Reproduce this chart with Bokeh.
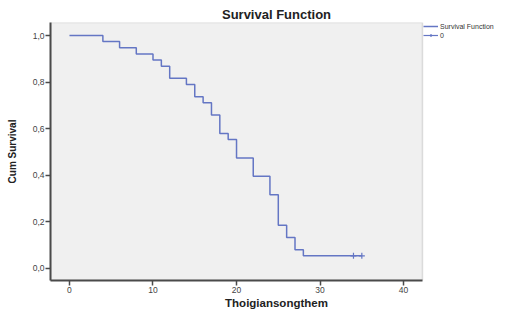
from bokeh.plotting import figure
from bokeh.models import Range1d, FixedTicker, Legend, LegendItem, BoxAnnotation
from bokeh.embed import file_html
from bokeh.resources import INLINE

# Kaplan-Meier step values
times = [0, 4, 6, 8, 10, 11, 12, 14, 15, 16, 17, 18, 19, 20, 22, 24, 25, 26, 27, 28, 35]
surv = [1.0, 0.974, 0.947, 0.921, 0.895, 0.868, 0.816, 0.789, 0.737, 0.711, 0.658,
        0.579, 0.553, 0.474, 0.395, 0.316, 0.184, 0.132, 0.079, 0.053, 0.053]
cens_t = [34, 35]
cens_s = [0.053, 0.053]

x_ticks = [0, 10, 20, 30, 40]
y_ticks = [0.0, 0.2, 0.4, 0.6, 0.8, 1.0]
y_tick_labels = {0.0: "0,0", 0.2: "0,2", 0.4: "0,4", 0.6: "0,6", 0.8: "0,8", 1.0: "1,0"}

# plot-area extent (data units) and the extra room on the right for the legend
XMIN, XMAX = -2.27, 42.26
YMIN, YMAX = -0.053, 1.056
XRIGHT = 51.84

LINE = "#6476C4"
FONT = "Liberation Sans"

W, H = 502, 311
BL, BR, BT, BB = 50, 0, 22, 30
FH = H - BT - BB

p = figure(width=W, height=H, output_backend="svg", toolbar_location=None,
           x_range=Range1d(XMIN, XRIGHT), y_range=Range1d(YMIN, YMAX),
           min_border_left=BL, min_border_right=BR, min_border_top=BT, min_border_bottom=BB,
           background_fill_color="white", border_fill_color="white")

p.title.text = "Survival Function"
p.title.align = "center"
p.title.text_font = FONT
p.title.text_font_size = "13px"
p.title.text_font_style = "bold"
p.title.text_color = "#222222"
p.title.standoff = 1

p.outline_line_color = None
p.xgrid.visible = False
p.ygrid.visible = False

area = BoxAnnotation(left=XMIN, right=XMAX, bottom=YMIN, top=YMAX,
                     fill_color="#F0F0F0", fill_alpha=1.0,
                     line_color="#999999", line_width=1.5, level="underlay")
p.add_layout(area)

step_r = p.step(times, surv, mode="after", line_color=LINE, line_width=1.5)
cens_r = p.scatter(cens_t, cens_s, marker="cross", size=6, line_color=LINE, line_width=1.2)
dummy_line = p.line(x=[-100, -99], y=[-100, -100], line_color=LINE, line_width=1.2)

for ax in (p.xaxis[0], p.yaxis[0]):
    ax.axis_line_color = "#4a4a4a"
    ax.axis_line_width = 2
    ax.major_tick_line_color = "#4a4a4a"
    ax.major_tick_line_width = 1.5
    ax.major_tick_out = 5
    ax.major_tick_in = 0
    ax.minor_tick_out = 0
    ax.minor_tick_in = 0
    ax.major_label_text_font = FONT
    ax.major_label_text_font_size = "8.5px"
    ax.major_label_text_color = "#444444"
    ax.axis_label_text_font = FONT
    ax.axis_label_text_font_style = "bold"
    ax.axis_label_text_color = "#222222"

p.xaxis.bounds = (XMIN, XMAX)
p.xaxis.ticker = FixedTicker(ticks=x_ticks)
p.yaxis.ticker = FixedTicker(ticks=y_ticks)
p.yaxis.major_label_overrides = y_tick_labels
p.xaxis.major_label_standoff = 1
p.yaxis.major_label_standoff = 1
p.xaxis.axis_label = "Thoigiansongthem"
p.xaxis.axis_label_text_font_size = "11.5px"
p.xaxis.axis_label_standoff = 1
p.yaxis.axis_label = "Cum Survival"
p.yaxis.axis_label_text_font_size = "10px"
p.yaxis.axis_label_standoff = 12

legend = Legend(items=[LegendItem(label="Survival Function", renderers=[step_r]),
                       LegendItem(label="0", renderers=[dummy_line, cens_r])],
                location=(373, FH - 18), orientation="vertical",
                label_text_font=FONT, label_text_font_size="7px", label_text_color="#333333",
                glyph_width=15, glyph_height=8, label_height=8, label_standoff=2,
                spacing=1, padding=0, margin=0,
                border_line_color=None, background_fill_color=None)
p.add_layout(legend)

open("out.html", "w").write(file_html(p, INLINE))
